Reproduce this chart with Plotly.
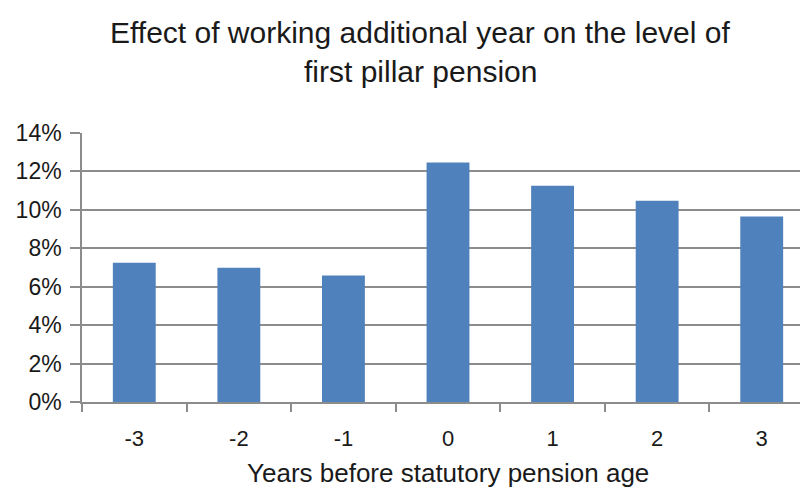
import plotly.graph_objects as go

categories = ["-3", "-2", "-1", "0", "1", "2", "3"]
values = [0.0725, 0.0699, 0.0659, 0.1246, 0.1125, 0.1047, 0.0966]
title_lines = ["Effect of working additional year on the level of", "first pillar pension"]
x_title = "Years before statutory pension age"

FONT = "Liberation Sans"
GRID = "#8c8c8c"
TXT = "#1a1a1a"

fig = go.Figure()
fig.add_trace(go.Bar(
    x=categories, y=values, width=0.41,
    marker=dict(color="#4F81BD", line=dict(width=0)),
))

annotations = [
    dict(text=title_lines[0], x=0.462, y=1.372, xref="paper", yref="paper",
         xanchor="center", yanchor="middle", showarrow=False,
         font=dict(family=FONT, size=30, color=TXT)),
    dict(text=title_lines[1], x=0.462, y=1.230, xref="paper", yref="paper",
         xanchor="center", yanchor="middle", showarrow=False,
         font=dict(family=FONT, size=30, color=TXT)),
    dict(text=x_title, x=0.5, y=-0.264, xref="paper", yref="paper",
         xanchor="center", yanchor="middle", showarrow=False,
         font=dict(family=FONT, size=26, color=TXT)),
]

fig.update_layout(
    width=808, height=493,
    margin=dict(l=74, r=2, t=125, b=99, autoexpand=False),
    paper_bgcolor="white", plot_bgcolor="white",
    showlegend=False,
    font=dict(family=FONT, color=TXT),
    annotations=annotations,
    xaxis=dict(
        type="category",
        range=[-0.5, 6.5],
        automargin=False,
        showline=True, linecolor=GRID, linewidth=1.5,
        ticks="outside", ticklen=8, tickcolor=GRID, tickwidth=1.5,
        tickson="boundaries",
        ticklabelstandoff=16,
        showgrid=False,
        tickfont=dict(size=22),
    ),
    yaxis=dict(
        range=[0, 0.14], dtick=0.02, tickformat=".0%",
        automargin=False,
        showline=True, linecolor=GRID, linewidth=1.5,
        ticks="outside", ticklen=10, tickcolor=GRID, tickwidth=1.5,
        ticklabelstandoff=4,
        showgrid=True, gridcolor=GRID, gridwidth=1.5,
        zeroline=False,
        tickfont=dict(size=23),
    ),
)

fig.write_html("out.html")
